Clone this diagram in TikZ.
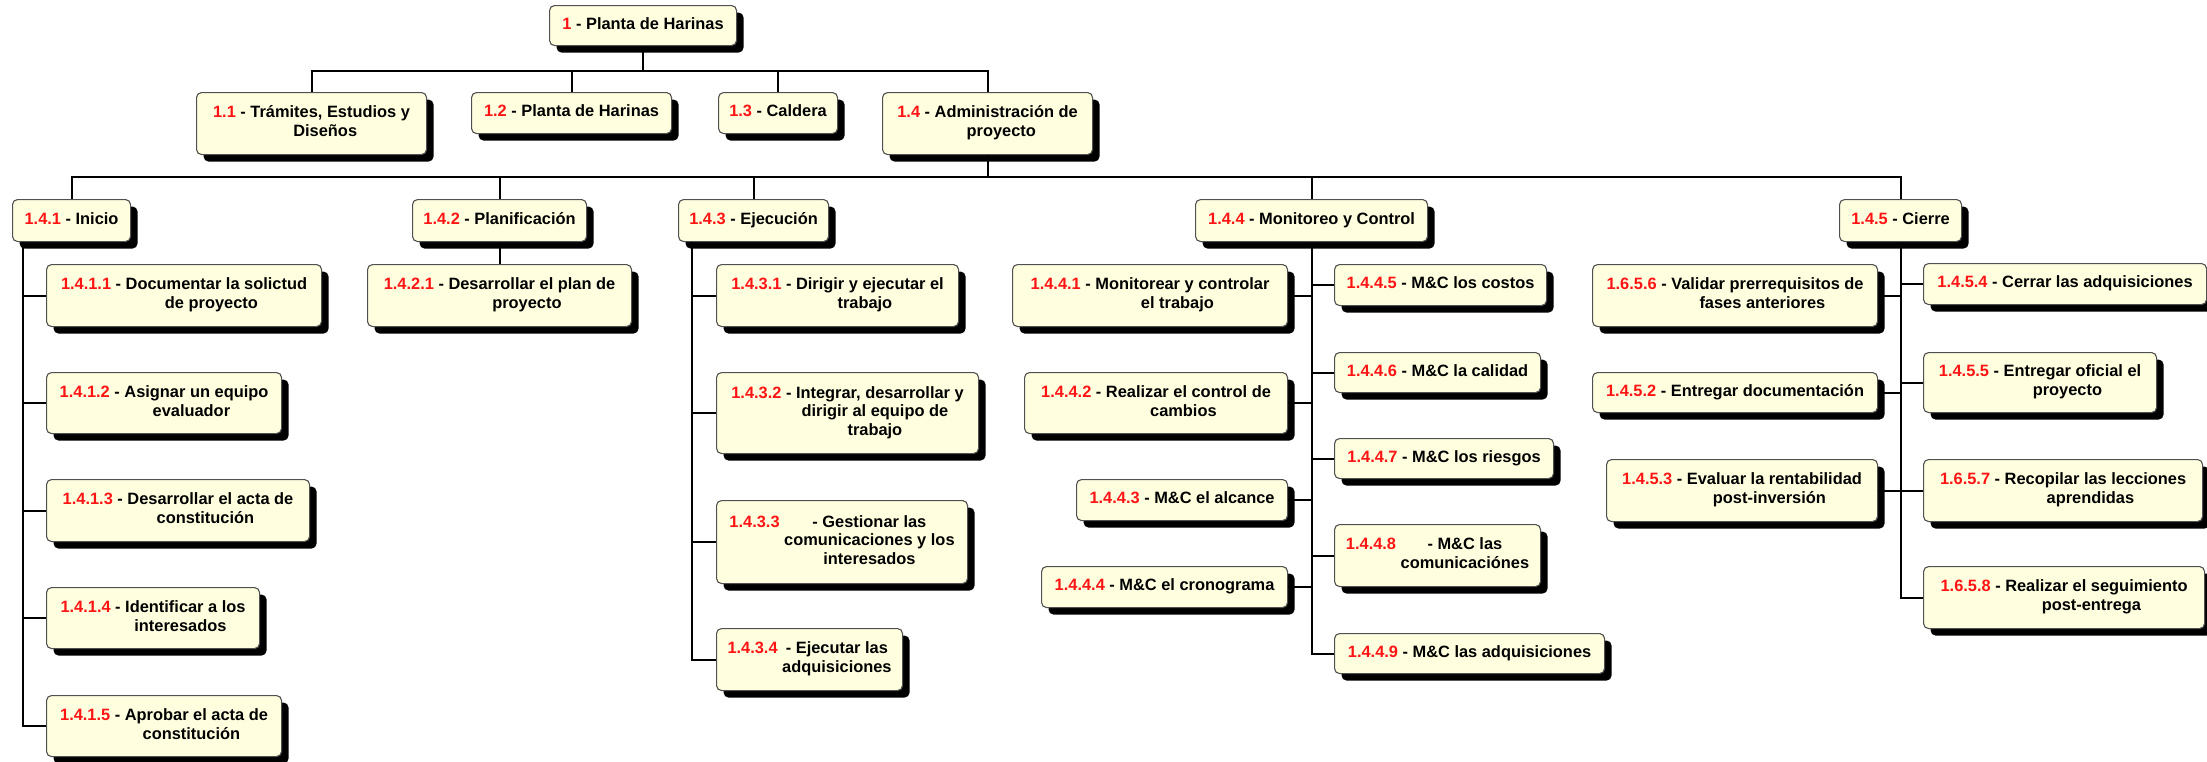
\documentclass[tikz,border=0pt]{standalone}
\usepackage{fontspec}
\setmainfont{Liberation Sans}
\usetikzlibrary{shadows}

\definecolor{boxfill}{RGB}{255,255,224}
\definecolor{boxline}{RGB}{80,80,80}
\definecolor{numred}{RGB}{255,20,20}

% work-package label: red code followed by a centred description column
\newcommand{\wlab}[2]{\textcolor{numred}{#1} \begin{tabular}[t]{@{}c@{}}#2\end{tabular}}

\tikzset{
  wbs/.style={draw=boxline, line width=1.1pt, fill=boxfill, rounded corners=5pt,
    anchor=north west, inner xsep=4pt, inner ysep=2pt,
    font=\fontsize{16.4}{18.8}\selectfont\bfseries,
    drop shadow={shadow xshift=7pt, shadow yshift=-7pt, opacity=1, fill=black}},
  conn/.style={draw=black, line width=2pt}
}

\begin{document}
\begin{tikzpicture}[x=1pt, y=-1pt]
\useasboundingbox (0,0) rectangle (2207,761);

% level 0
\node[wbs, minimum width=187pt, minimum height=40pt] (n1) at (549,5) {\wlab{1}{- Planta de Harinas}};

% level 1
\node[wbs, minimum width=230pt, minimum height=62pt] (n11) at (196,92) {\wlab{1.1}{- Trámites, Estudios y\\Diseños}};
\node[wbs, minimum width=200pt, minimum height=41pt] (n12) at (471,92) {\wlab{1.2}{- Planta de Harinas}};
\node[wbs, minimum width=119pt, minimum height=41pt] (n13) at (718,92) {\wlab{1.3}{- Caldera}};
\node[wbs, minimum width=210pt, minimum height=62pt] (n14) at (882,92) {\wlab{1.4}{- Administración de\\proyecto}};

% level 2
\node[wbs, minimum width=118pt, minimum height=42pt] (n141) at (12,199) {\wlab{1.4.1}{- Inicio}};
\node[wbs, minimum width=174pt, minimum height=42pt] (n142) at (412,199) {\wlab{1.4.2}{- Planificación}};
\node[wbs, minimum width=150pt, minimum height=42pt] (n143) at (678,199) {\wlab{1.4.3}{- Ejecución}};
\node[wbs, minimum width=232pt, minimum height=42pt] (n144) at (1195,199) {\wlab{1.4.4}{- Monitoreo y Control}};
\node[wbs, minimum width=122pt, minimum height=42pt] (n145) at (1839,199) {\wlab{1.4.5}{- Cierre}};

% 1.4.1 Inicio
\node[wbs, minimum width=275pt, minimum height=62pt] (n1411) at (46,264) {\wlab{1.4.1.1}{- Documentar la solictud\\de proyecto}};
\node[wbs, minimum width=235pt, minimum height=61pt] (n1412) at (46,372) {\wlab{1.4.1.2}{- Asignar un equipo\\evaluador}};
\node[wbs, minimum width=263pt, minimum height=62pt] (n1413) at (46,479) {\wlab{1.4.1.3}{- Desarrollar el acta de\\constitución}};
\node[wbs, minimum width=213pt, minimum height=61pt] (n1414) at (46,587) {\wlab{1.4.1.4}{- Identificar a los\\interesados}};
\node[wbs, minimum width=235pt, minimum height=61pt] (n1415) at (46,695) {\wlab{1.4.1.5}{- Aprobar el acta de\\constitución}};

% 1.4.2 Planificacion
\node[wbs, minimum width=264pt, minimum height=62pt] (n1421) at (367,264) {\wlab{1.4.2.1}{- Desarrollar el plan de\\proyecto}};

% 1.4.3 Ejecucion
\node[wbs, minimum width=242pt, minimum height=62pt] (n1431) at (716,264) {\wlab{1.4.3.1}{- Dirigir y ejecutar el\\trabajo}};
\node[wbs, minimum width=262pt, minimum height=81pt] (n1432) at (716,372) {\wlab{1.4.3.2}{- Integrar, desarrollar y\\dirigir al equipo de\\trabajo}};
\node[wbs, minimum width=251pt, minimum height=83pt] (n1433) at (716,500) {\wlab{1.4.3.3}{- Gestionar las\\comunicaciones y los\\interesados}};
\node[wbs, minimum width=186pt, minimum height=62pt] (n1434) at (716,628) {\wlab{1.4.3.4}{- Ejecutar las\\adquisiciones}};

% 1.4.4 Monitoreo y Control, left column
\node[wbs, minimum width=275pt, minimum height=62pt] (n1441) at (1012,264) {\wlab{1.4.4.1}{- Monitorear y controlar\\el trabajo}};
\node[wbs, minimum width=263pt, minimum height=61pt] (n1442) at (1024,372) {\wlab{1.4.4.2}{- Realizar el control de\\cambios}};
\node[wbs, minimum width=211pt, minimum height=41pt] (n1443) at (1076,479) {\wlab{1.4.4.3}{- M\&C el alcance}};
\node[wbs, minimum width=246pt, minimum height=41pt] (n1444) at (1041,566) {\wlab{1.4.4.4}{- M\&C el cronograma}};
% right column
\node[wbs, minimum width=212pt, minimum height=41pt] (n1445) at (1334,264) {\wlab{1.4.4.5}{- M\&C los costos}};
\node[wbs, minimum width=206pt, minimum height=40pt] (n1446) at (1334,352) {\wlab{1.4.4.6}{- M\&C la calidad}};
\node[wbs, minimum width=219pt, minimum height=40pt] (n1447) at (1334,438) {\wlab{1.4.4.7}{- M\&C los riesgos}};
\node[wbs, minimum width=206pt, minimum height=62pt] (n1448) at (1334,524) {\wlab{1.4.4.8}{- M\&C las\\comunicaciónes}};
\node[wbs, minimum width=270pt, minimum height=40pt] (n1449) at (1334,633) {\wlab{1.4.4.9}{- M\&C las adquisiciones}};

% 1.4.5 Cierre, left column
\node[wbs, minimum width=285pt, minimum height=62pt] (n1656) at (1592,264) {\wlab{1.6.5.6}{- Validar prerrequisitos de\\fases anteriores}};
\node[wbs, minimum width=285pt, minimum height=40pt] (n1452) at (1592,372) {\wlab{1.4.5.2}{- Entregar documentación}};
\node[wbs, minimum width=271pt, minimum height=62pt] (n1453) at (1606,459) {\wlab{1.4.5.3}{- Evaluar la rentabilidad\\post-inversión}};
% right column
\node[wbs, minimum width=283pt, minimum height=41pt] (n1454) at (1923,263) {\wlab{1.4.5.4}{- Cerrar las adquisiciones}};
\node[wbs, minimum width=233pt, minimum height=60pt] (n1455) at (1923,352) {\wlab{1.4.5.5}{- Entregar oficial el\\proyecto}};
\node[wbs, minimum width=279pt, minimum height=62pt] (n1657) at (1923,459) {\wlab{1.6.5.7}{- Recopilar las lecciones\\aprendidas}};
\node[wbs, minimum width=281pt, minimum height=62pt] (n1658) at (1923,566) {\wlab{1.6.5.8}{- Realizar el seguimiento\\post-entrega}};

% tree connectors
\foreach \c in {n11,n12,n13,n14}
  \draw[conn] (n1.south) -- ++(0,25) -| (\c.north);
\foreach \c in {n141,n142,n143,n144,n145}
  \draw[conn] (n14.south) -- ++(0,22) -| (\c.north);

\foreach \c in {n1411,n1412,n1413,n1414,n1415}
  \draw[conn] ([xshift=11pt]n141.south west) |- (\c.west);
\draw[conn] (n142.south) -- (n1421.north);
\foreach \c in {n1431,n1432,n1433,n1434}
  \draw[conn] ([xshift=14pt]n143.south west) |- (\c.west);

\foreach \c in {n1441,n1442,n1443,n1444}
  \draw[conn] (n144.south) |- (\c.east);
\foreach \c in {n1445,n1446,n1447,n1448,n1449}
  \draw[conn] (n144.south) |- (\c.west);

\foreach \c in {n1656,n1452,n1453}
  \draw[conn] (n145.south) |- (\c.east);
\foreach \c in {n1454,n1455,n1657,n1658}
  \draw[conn] (n145.south) |- (\c.west);
\end{tikzpicture}
\end{document}
